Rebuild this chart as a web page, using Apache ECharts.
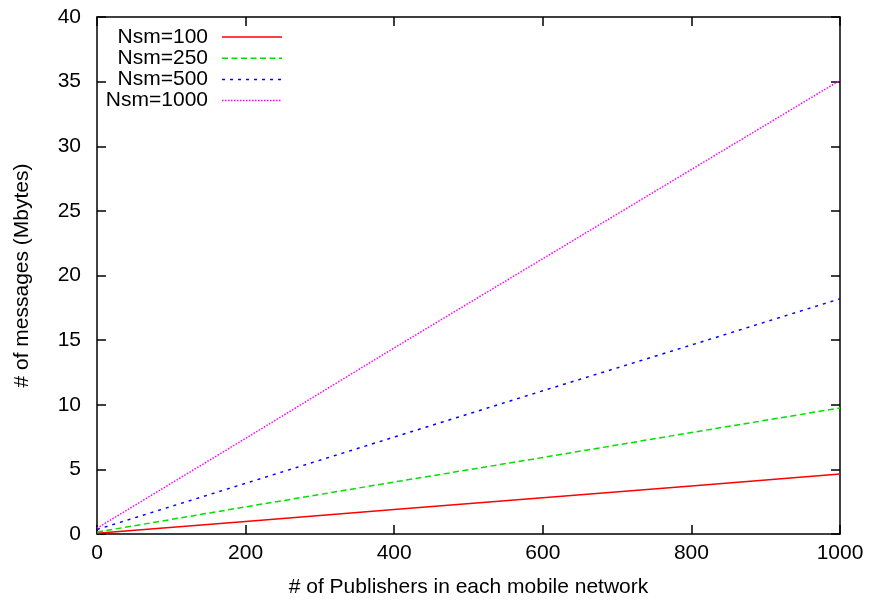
<!DOCTYPE html>
<html>
<head>
<meta charset="utf-8">
<script src="https://cdn.jsdelivr.net/npm/echarts@6/dist/echarts.min.js"></script>
<style>
  html, body { margin: 0; padding: 0; background: #fff; }
  #chart { width: 871px; height: 603px; }
</style>
</head>
<body>
<div id="chart"></div>
<script>
// Publishers per mobile network (x) and message volume in Mbytes (y)
const publishers = [0, 200, 400, 600, 800, 1000];
const nsm100  = [0.05, 0.97, 1.89, 2.80, 3.72, 4.64];
const nsm250  = [0.15, 2.10, 4.02, 5.92, 7.85, 9.75];
const nsm500  = [0.35, 3.92, 7.50, 11.08, 14.62, 18.20];
const nsm1000 = [0.45, 7.40, 14.40, 21.30, 28.20, 35.10];

const seriesNames = ['Nsm=100', 'Nsm=250', 'Nsm=500', 'Nsm=1000'];
const seriesData = [nsm100, nsm250, nsm500, nsm1000];
const seriesColors = ['#ff0000', '#00e000', '#0000ff', '#ff00ff'];
const seriesDash = [null, [6, 3.5], [3, 5], [1.5, 1.5]];

const FONT = '"Liberation Sans", Arial, sans-serif';
const FS = 21;

const chart = echarts.init(document.getElementById('chart'), null, { renderer: 'canvas' });

const axisLine = { show: true, onZero: false, lineStyle: { color: '#000', width: 1.5 } };
const axisTick = { show: true, inside: true, length: 9, lineStyle: { color: '#000', width: 1.5 } };
const tickFont = { color: '#000', fontSize: FS, fontFamily: FONT, formatter: v => String(v) };

// Key drawn in the top-left corner: right-aligned labels followed by line samples
const keyGraphics = [];
seriesNames.forEach((name, i) => {
  const cy = 37 + i * 21.2;
  keyGraphics.push({
    type: 'text', x: 208, y: cy,
    style: { text: name, fill: '#000', font: FS + 'px ' + FONT, textAlign: 'right', textVerticalAlign: 'middle' }
  });
  keyGraphics.push({
    type: 'line', shape: { x1: 222, y1: cy, x2: 282, y2: cy },
    style: { stroke: seriesColors[i], lineWidth: 1.5, lineDash: seriesDash[i] }
  });
});

chart.setOption({
  animation: false,
  backgroundColor: '#fff',
  grid: { left: 97, right: 31, top: 17, bottom: 66, containLabel: false },
  graphic: keyGraphics,
  xAxis: [
    {
      type: 'value', position: 'bottom', min: 0, max: 1000, interval: 200,
      name: '# of Publishers in each mobile network',
      nameLocation: 'middle', nameGap: 43,
      nameTextStyle: { color: '#000', fontSize: FS, fontFamily: FONT },
      axisLine, axisTick, splitLine: { show: false },
      axisLabel: Object.assign({ margin: 9 }, tickFont)
    },
    {
      type: 'value', position: 'top', min: 0, max: 1000, interval: 200,
      axisLine, axisTick, splitLine: { show: false }, axisLabel: { show: false }
    }
  ],
  yAxis: [
    {
      type: 'value', position: 'left', min: 0, max: 40, interval: 5,
      name: '# of messages (Mbytes)',
      nameLocation: 'middle', nameGap: 64,
      nameTextStyle: { color: '#000', fontSize: FS, fontFamily: FONT },
      axisLine, axisTick, splitLine: { show: false },
      axisLabel: Object.assign({ margin: 16 }, tickFont)
    },
    {
      type: 'value', position: 'right', min: 0, max: 40, interval: 5,
      axisLine, axisTick, splitLine: { show: false }, axisLabel: { show: false }
    }
  ],
  series: seriesNames.map((name, i) => ({
    name,
    type: 'line',
    xAxisIndex: 0,
    yAxisIndex: 0,
    showSymbol: false,
    symbol: 'none',
    color: seriesColors[i],
    lineStyle: { color: seriesColors[i], width: 1.5, type: seriesDash[i] || 'solid' },
    data: publishers.map((x, j) => [x, seriesData[i][j]])
  }))
});
</script>
</body>
</html>
